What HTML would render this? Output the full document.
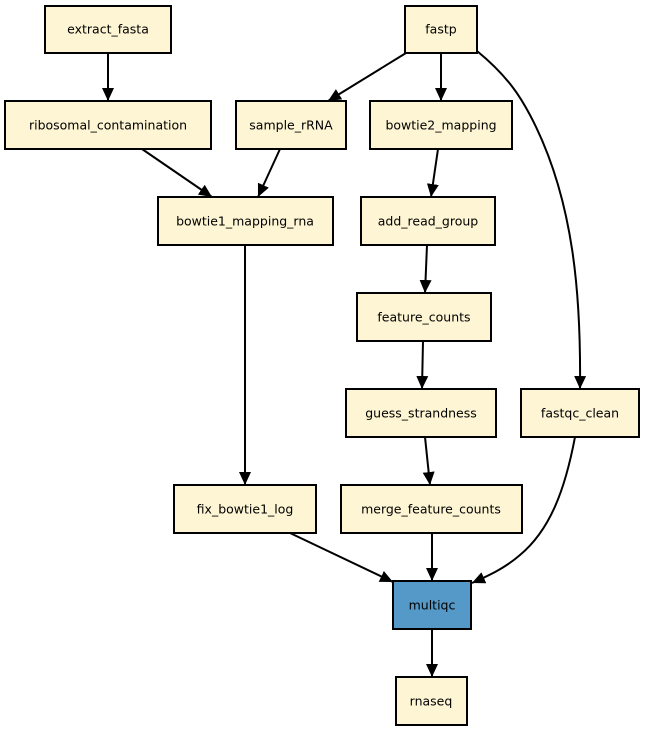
<!DOCTYPE html>
<html><head><meta charset="utf-8"><style>
html,body{margin:0;padding:0;background:#fff;}
svg{display:block;}
text{font-family:"DejaVu Sans","Liberation Sans",sans-serif;font-size:12.5px;fill:#000;text-anchor:middle;dominant-baseline:central;}
rect{fill:#fdf5d3;stroke:#000;stroke-width:2;}
path,line{stroke:#000;stroke-width:2;fill:none;}
</style></head><body>
<svg width="645" height="731" viewBox="0 0 645 731" xmlns="http://www.w3.org/2000/svg">
<defs><marker id="a" markerUnits="userSpaceOnUse" markerWidth="14" markerHeight="12" refX="13" refY="6" orient="auto"><path d="M0,0 L13,6 L0,12 Z" style="fill:#000;stroke:none"/></marker></defs>
<line x1="108" y1="53" x2="108" y2="101" marker-end="url(#a)"/>
<line x1="406" y1="53" x2="328" y2="101" marker-end="url(#a)"/>
<line x1="441" y1="53" x2="441" y2="101" marker-end="url(#a)"/>
<path d="M477,51 C510,78 522,100 530,115 C575,200 581,300 580,389" marker-end="url(#a)"/>
<line x1="142" y1="149" x2="212" y2="197" marker-end="url(#a)"/>
<line x1="280" y1="149" x2="258" y2="197" marker-end="url(#a)"/>
<line x1="438" y1="149" x2="431" y2="197" marker-end="url(#a)"/>
<line x1="427" y1="245" x2="425" y2="293" marker-end="url(#a)"/>
<line x1="423" y1="341" x2="422" y2="389" marker-end="url(#a)"/>
<line x1="425" y1="437" x2="430" y2="485" marker-end="url(#a)"/>
<line x1="245" y1="245" x2="245" y2="485" marker-end="url(#a)"/>
<line x1="290" y1="533" x2="393" y2="582" marker-end="url(#a)"/>
<line x1="432" y1="533" x2="432" y2="581" marker-end="url(#a)"/>
<path d="M575,437 C565,490 550,530 520,555 C505,568 490,575 472,583" marker-end="url(#a)"/>
<line x1="432" y1="629" x2="432" y2="677" marker-end="url(#a)"/>

<rect x="45" y="6" width="126" height="47"/><text x="108" y="29">extract_fasta</text>
<rect x="405" y="6" width="72" height="47"/><text x="441" y="29">fastp</text>
<rect x="5" y="101" width="206" height="48"/><text x="108" y="125">ribosomal_contamination</text>
<rect x="236" y="101" width="110" height="48"/><text x="291" y="125">sample_rRNA</text>
<rect x="370" y="101" width="142" height="48"/><text x="441" y="125">bowtie2_mapping</text>
<rect x="158" y="197" width="175" height="48"/><text x="245" y="221">bowtie1_mapping_rna</text>
<rect x="361" y="197" width="134" height="48"/><text x="428" y="221">add_read_group</text>
<rect x="357" y="293" width="134" height="48"/><text x="424" y="317">feature_counts</text>
<rect x="346" y="389" width="150" height="48"/><text x="421" y="413">guess_strandness</text>
<rect x="521" y="389" width="118" height="48"/><text x="580" y="413">fastqc_clean</text>
<rect x="174" y="485" width="142" height="48"/><text x="245" y="509">fix_bowtie1_log</text>
<rect x="341" y="485" width="181" height="48"/><text x="431" y="509">merge_feature_counts</text>
<rect x="393" y="581" width="78" height="48" style="fill:#5599c9"/><text x="432" y="605">multiqc</text>
<rect x="396" y="677" width="71" height="48"/><text x="431" y="701">rnaseq</text>
</svg>
</body></html>
